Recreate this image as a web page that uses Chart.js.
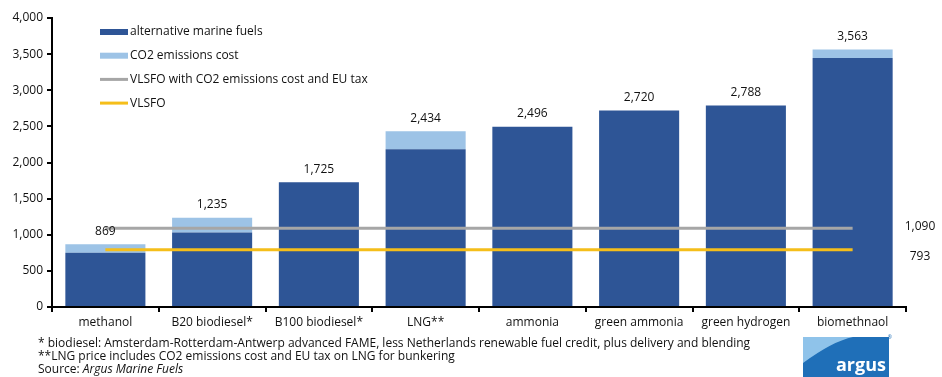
<!DOCTYPE html>
<html>
<head>
<meta charset="utf-8">
<script src="https://cdn.jsdelivr.net/npm/chart.js@4.4.1/dist/chart.umd.min.js"></script>
<style>
    html, body { margin: 0; padding: 0; background: #fff; }
    #wrap { position: relative; width: 942px; height: 377px; overflow: hidden; }
    #chart { position: absolute; left: 0; top: 0; }
    .note { position: absolute; left: 38px; font: 12px "Open Sans", sans-serif; color: #111; white-space: nowrap; }
    #logo { position: absolute; left: 803px; top: 333px; }
</style>
</head>
<body>
<div id="wrap">
    <canvas id="chart" width="942" height="377"></canvas>
    <div class="note" style="top:334px">* biodiesel: Amsterdam-Rotterdam-Antwerp advanced FAME, less Netherlands renewable fuel credit, plus delivery and blending</div>
    <div class="note" style="top:347px">**LNG price includes CO2 emissions cost and EU tax on LNG for bunkering</div>
    <div class="note" style="top:360px">Source: <i>Argus Marine Fuels</i></div>
    <svg id="logo" width="90" height="44" viewBox="0 0 90 44">
        <rect x="0" y="4" width="86" height="40" fill="#1f6fb8"/>
        <path d="M0 30 Q30 8 50 4 L0 4 Z" fill="#8fc3ea"/>
        <text x="83" y="38" text-anchor="end" font-family="Open Sans, sans-serif" font-weight="bold" font-size="18" fill="#fff">argus</text>
        <text x="89" y="6" text-anchor="end" font-family="Open Sans, sans-serif" font-size="5" fill="#1f6fb8">®</text>
    </svg>
</div>
<script>
    // fuel categories
    const categories = ["methanol", "B20 biodiesel*", "B100 biodiesel*", "LNG**", "ammonia",
        "green ammonia", "green hydrogen", "biomethnaol"];

    // $/t
    const fuel_cost = [750, 1030, 1725, 2185, 2496, 2720, 2788, 3445];
    const co2_cost = [119, 205, 0, 249, 0, 0, 0, 118];
    const vlsfo_co2_tax = [1090, 1090, 1090, 1090, 1090, 1090, 1090, 1090];
    const vlsfo = [793, 793, 793, 793, 793, 793, 793, 793];

    const y_ticks = [0, 500, 1000, 1500, 2000, 2500, 3000, 3500, 4000];

    const FONT = '"Open Sans", sans-serif';
    const fmt = (v) => v.toLocaleString('en-US');

    // totals above bars, line values at the right
    const value_labels = {
        id: 'value_labels',
        afterDatasetsDraw(chart) {
            const ctx = chart.ctx;
            const y = chart.scales.y;
            const fuel_meta = chart.getDatasetMeta(0);
            ctx.save();
            ctx.font = '12px ' + FONT;
            ctx.fillStyle = '#111';
            ctx.textAlign = 'center';
            ctx.textBaseline = 'middle';
            fuel_cost.forEach((v, i) => {
                const total = v + co2_cost[i];
                ctx.fillText(fmt(total), fuel_meta.data[i].x, y.getPixelForValue(total) - 13);
            });
            const rx = chart.chartArea.right + 14;
            ctx.fillText(fmt(vlsfo_co2_tax[0]), rx, y.getPixelForValue(vlsfo_co2_tax[0]) - 2);
            ctx.fillText(fmt(vlsfo[0]), rx, y.getPixelForValue(vlsfo[0]) + 7);
            ctx.restore();
        }
    };

    // legend drawn inside the plot, top left
    const inner_legend = {
        id: 'inner_legend',
        afterDraw(chart) {
            const ctx = chart.ctx;
            ctx.save();
            ctx.font = '12px ' + FONT;
            ctx.fillStyle = '#111';
            ctx.textBaseline = 'middle';
            chart.data.datasets.forEach((ds, i) => {
                const cy = 32 + i * 23.7;
                ctx.fillStyle = ds.type === 'line' ? ds.borderColor : ds.backgroundColor;
                const h = ds.type === 'line' ? 3 : 6;
                ctx.fillRect(100, cy - h / 2, 28, h);
                ctx.fillStyle = '#111';
                ctx.fillText(ds.label, 130, cy);
            });
            ctx.restore();
        }
    };

    new Chart(document.getElementById('chart'), {
        type: 'bar',
        data: {
            labels: categories,
            datasets: [
                {
                    label: 'alternative marine fuels',
                    data: fuel_cost,
                    backgroundColor: '#2e5596',
                    stack: 'bars',
                    order: 3
                },
                {
                    label: 'CO2 emissions cost',
                    data: co2_cost,
                    backgroundColor: '#9dc3e6',
                    stack: 'bars',
                    order: 3
                },
                {
                    type: 'line',
                    label: 'VLSFO with CO2 emissions cost and EU tax',
                    data: vlsfo_co2_tax,
                    borderColor: '#a6a6a6',
                    borderWidth: 3,
                    pointRadius: 0,
                    stack: 'l1',
                    order: 1
                },
                {
                    type: 'line',
                    label: 'VLSFO',
                    data: vlsfo,
                    borderColor: '#f5be1a',
                    borderWidth: 3,
                    pointRadius: 0,
                    stack: 'l2',
                    order: 0
                }
            ]
        },
        options: {
            responsive: false,
            animation: false,
            layout: {
                padding: { left: 0, top: 18, right: 36, bottom: 40 }
            },
            datasets: {
                bar: { categoryPercentage: 1, barPercentage: 0.75 }
            },
            plugins: {
                legend: { display: false },
                tooltip: { enabled: false }
            },
            scales: {
                x: {
                    stacked: true,
                    afterFit: (s) => { s.height = 30; },
                    border: { color: '#000', width: 2 },
                    grid: { drawOnChartArea: false, color: '#000', tickLength: 5, lineWidth: 2 },
                    ticks: { color: '#111', font: { family: FONT, size: 12 }, padding: 3 }
                },
                y: {
                    stacked: true,
                    min: 0,
                    max: 4000,
                    afterFit: (s) => { s.width = 52; },
                    afterBuildTicks: (s) => { s.ticks = y_ticks.map((v) => ({ value: v })); },
                    border: { color: '#000', width: 2 },
                    grid: { drawOnChartArea: false, color: '#000', tickLength: 5, lineWidth: 2 },
                    ticks: {
                        color: '#111',
                        font: { family: FONT, size: 12 },
                        padding: 4,
                        callback: (v) => fmt(v)
                    }
                }
            }
        },
        plugins: [value_labels, inner_legend]
    });
</script>
</body>
</html>
